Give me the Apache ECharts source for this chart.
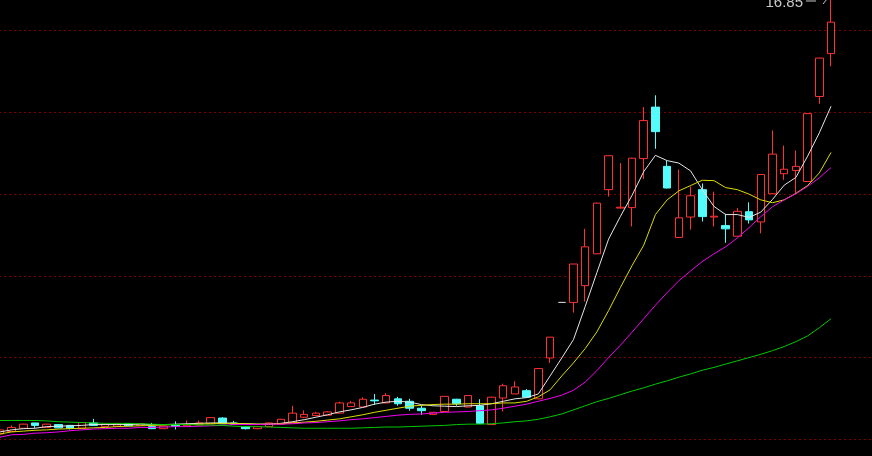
<!DOCTYPE html>
<html>
<head>
<meta charset="utf-8">
<script src="https://cdn.jsdelivr.net/npm/echarts@6/dist/echarts.min.js"></script>
<style>
html,body{margin:0;padding:0;background:#000;overflow:hidden;width:872px;height:456px;position:relative;}
#c{position:absolute;left:-6px;top:-51px;width:878px;height:572px;}
</style>
</head>
<body>
<div id="c"></div>
<script>
// ---- data ----
const opens = [6.13, 6.19, 6.27, 6.40, 6.29, 6.36, 6.34, 6.27, 6.40, 6.31,
 6.32, 6.38, 6.34, 6.31, 6.26, 6.34, 6.33, 6.35, 6.38, 6.52,
 6.40, 6.31, 6.26, 6.31, 6.37, 6.41, 6.54, 6.58, 6.59, 6.64,
 6.80, 6.79, 6.96, 6.89, 6.99, 6.93, 6.76, 6.61, 6.68, 6.98,
 6.79, 6.82, 6.36, 7.01, 7.11, 7.19, 6.99, 7.99, 9.35, 9.35,
 9.76, 10.54, 12.11, 11.66, 11.67, 12.87, 14.13, 12.68, 10.94, 11.44,
 12.11, 11.44, 11.23, 10.97, 11.57, 11.32, 12.01, 12.50, 12.58, 12.31,
 14.39, 15.44];
const closes = [6.23, 6.29, 6.37, 6.34, 6.37, 6.28, 6.27, 6.41, 6.34, 6.37,
 6.38, 6.33, 6.38, 6.26, 6.32, 6.32, 6.36, 6.40, 6.53, 6.38,
 6.37, 6.26, 6.31, 6.40, 6.49, 6.64, 6.61, 6.64, 6.67, 6.89,
 6.89, 6.98, 6.94, 7.07, 6.87, 6.76, 6.70, 6.66, 7.05, 6.87,
 7.07, 6.39, 7.03, 7.31, 7.28, 7.03, 7.73, 8.50, 9.35, 10.29,
 10.71, 11.78, 12.94, 11.68, 12.88, 13.80, 13.53, 12.15, 11.42, 11.96,
 11.45, 11.46, 11.15, 11.58, 11.37, 12.48, 12.98, 12.61, 12.68, 13.97,
 15.33, 16.21];
const lows = [6.11, 6.19, 6.26, 6.28, 6.28, 6.27, 6.24, 6.26, 6.33, 6.30,
 6.31, 6.32, 6.33, 6.25, 6.25, 6.24, 6.32, 6.34, 6.38, 6.37,
 6.36, 6.24, 6.25, 6.30, 6.36, 6.40, 6.53, 6.57, 6.59, 6.63,
 6.79, 6.78, 6.84, 6.88, 6.82, 6.70, 6.60, 6.60, 6.68, 6.82,
 6.78, 6.38, 6.35, 6.68, 7.11, 7.02, 6.98, 7.87, 9.35, 9.10,
 9.37, 10.53, 11.94, 11.65, 11.21, 12.37, 13.11, 12.14, 10.93, 11.13,
 11.33, 11.21, 10.81, 10.96, 11.28, 11.04, 12.00, 12.35, 12.03, 12.30,
 14.21, 15.13];
const highs = [6.25, 6.34, 6.38, 6.40, 6.38, 6.37, 6.35, 6.42, 6.50, 6.38,
 6.39, 6.39, 6.39, 6.40, 6.32, 6.44, 6.46, 6.46, 6.54, 6.54,
 6.45, 6.32, 6.32, 6.41, 6.50, 6.82, 6.71, 6.67, 6.69, 6.92,
 6.94, 7.03, 7.11, 7.13, 7.04, 6.99, 6.83, 6.66, 7.05, 6.99,
 7.08, 6.98, 7.04, 7.36, 7.42, 7.23, 7.74, 8.50, 9.35, 10.29,
 11.15, 11.79, 12.95, 12.76, 12.89, 14.13, 14.42, 12.82, 12.60, 12.19,
 12.26, 12.06, 11.52, 11.66, 11.80, 12.49, 13.56, 13.19, 13.07, 13.98,
 15.34, 16.85];
const ma5 = [6.18, 6.23, 6.26, 6.27, 6.31, 6.32, 6.33, 6.34, 6.36, 6.36,
 6.36, 6.36, 6.37, 6.36, 6.36, 6.37, 6.38, 6.39, 6.40, 6.40,
 6.39, 6.38, 6.37, 6.37, 6.39, 6.43, 6.48, 6.54, 6.60, 6.67,
 6.72, 6.78, 6.86, 6.91, 6.93, 6.91, 6.85, 6.82, 6.81, 6.80,
 6.82, 6.83, 6.87, 6.93, 6.99, 7.02, 7.11, 7.55, 7.99, 8.44,
 9.25, 10.08, 10.90, 11.45, 11.97, 12.55, 12.95, 12.82, 12.76, 12.57,
 12.11, 11.70, 11.50, 11.50, 11.43, 11.56, 11.87, 12.22, 12.41, 12.93,
 13.50, 14.15];
const ma10 = [6.13, 6.18, 6.20, 6.22, 6.23, 6.25, 6.26, 6.27, 6.28, 6.29,
 6.31, 6.32, 6.33, 6.34, 6.35, 6.36, 6.36, 6.37, 6.38, 6.39,
 6.39, 6.38, 6.37, 6.37, 6.38, 6.40, 6.42, 6.44, 6.47, 6.50,
 6.55, 6.60, 6.66, 6.71, 6.76, 6.81, 6.83, 6.85, 6.86, 6.86,
 6.87, 6.87, 6.87, 6.89, 6.89, 6.93, 7.04, 7.21, 7.55, 7.87,
 8.22, 8.63, 9.15, 9.71, 10.25, 10.75, 11.50, 11.86, 12.08, 12.21,
 12.34, 12.33, 12.16, 12.11, 12.00, 11.86, 11.79, 11.86, 12.02, 12.21,
 12.52, 13.02];
const ma20 = [6.05, 6.11, 6.12, 6.15, 6.16, 6.18, 6.21, 6.23, 6.25, 6.26,
 6.27, 6.27, 6.29, 6.29, 6.30, 6.31, 6.31, 6.32, 6.33, 6.34,
 6.36, 6.36, 6.36, 6.37, 6.37, 6.38, 6.40, 6.41, 6.43, 6.45,
 6.48, 6.50, 6.53, 6.56, 6.59, 6.61, 6.62, 6.64, 6.66, 6.67,
 6.68, 6.70, 6.72, 6.76, 6.81, 6.86, 6.93, 7.00, 7.08, 7.20,
 7.40, 7.68, 8.00, 8.30, 8.62, 8.95, 9.28, 9.59, 9.88, 10.12,
 10.35, 10.54, 10.71, 10.93, 11.18, 11.45, 11.69, 11.86, 12.01, 12.19,
 12.40, 12.65];
const ma60 = [6.46, 6.46, 6.46, 6.46, 6.45, 6.43, 6.42, 6.41, 6.40, 6.39,
 6.39, 6.39, 6.38, 6.37, 6.36, 6.36, 6.36, 6.35, 6.35, 6.34,
 6.32, 6.31, 6.31, 6.30, 6.29, 6.28, 6.27, 6.27, 6.27, 6.27,
 6.27, 6.28, 6.29, 6.30, 6.30, 6.31, 6.32, 6.33, 6.34, 6.36,
 6.37, 6.37, 6.38, 6.40, 6.43, 6.45, 6.49, 6.55, 6.62, 6.72,
 6.82, 6.92, 7.00, 7.09, 7.18, 7.26, 7.35, 7.43, 7.52, 7.60,
 7.69, 7.76, 7.84, 7.92, 8.00, 8.08, 8.17, 8.27, 8.39, 8.53,
 8.73, 8.95];
const dayLabels = opens.map((_, i) => 'D' + (i + 1));
const padLabels = ['P1', 'P2', 'P3'];
const categories = dayLabels.concat(padLabels);
const gridLevels = { min: 4, max: 18, step: 2 };

// ---- styles ----
const UP = '#ff3232', DOWN = '#54fcfc', FLAT = '#c8c8c8';

const candleData = opens.map((o, i) => {
  const v = [o, closes[i], lows[i], highs[i]];
  if (o === closes[i] && lows[i] === highs[i]) {
    return { value: v, itemStyle: { color: FLAT, color0: FLAT, borderColor: FLAT, borderColor0: FLAT } };
  }
  return v;
});

function maSeries(name, data, color) {
  return {
    name, type: 'line', data, symbol: 'none', showSymbol: false, smooth: false,
    lineStyle: { color, width: 1 }, silent: true, z: 3
  };
}

const chart = echarts.init(document.getElementById('c'), null, { renderer: 'canvas' });
const option = {
  backgroundColor: '#000',
  animation: false,
  grid: { left: 0, right: 0, top: 0, bottom: 0, containLabel: false },
  xAxis: {
    type: 'category', data: categories, boundaryGap: true,
    axisLine: { show: false }, axisTick: { show: false }, axisLabel: { show: false },
    splitLine: { show: false }
  },
  yAxis: {
    type: 'value', min: gridLevels.min, max: gridLevels.max, interval: gridLevels.step,
    axisLine: { show: false }, axisTick: { show: false }, axisLabel: { show: false },
    splitLine: { show: true, lineStyle: { color: '#800000', width: 1, type: [2, 3] } }
  },
  series: [
    {
      type: 'candlestick', data: candleData, barWidth: 8, z: 2,
      itemStyle: { color: '#000', color0: DOWN, borderColor: UP, borderColor0: DOWN, borderWidth: 1 }
    },
    maSeries('MA5', ma5, '#e6e6e6'),
    maSeries('MA10', ma10, '#dcdc00'),
    maSeries('MA20', ma20, '#f000f0'),
    maSeries('MA60', ma60, '#00c800')
  ]
};
chart.setOption(option);

// max-price label
const maxHigh = Math.max(...highs);
const maxIdx = highs.indexOf(maxHigh);
const p = chart.convertToPixel({ gridIndex: 0 }, [categories[maxIdx], maxHigh]);
chart.setOption({
  graphic: [
    { type: 'text', x: p[0] - 28, y: p[1] + 6.5,
      style: { text: maxHigh.toFixed(2), fill: '#c8c8c8', font: '15px "Liberation Sans", Arial, sans-serif',
               align: 'right', verticalAlign: 'middle' } },
    { type: 'line', shape: { x1: p[0] - 25, y1: p[1] + 5, x2: p[0] - 15, y2: p[1] + 5 },
      style: { stroke: '#c8c8c8', lineWidth: 1 } },
    { type: 'line', shape: { x1: p[0] - 8, y1: p[1] + 8, x2: p[0] - 4, y2: p[1] + 3 },
      style: { stroke: '#c8c8c8', lineWidth: 1 } }
  ]
});
</script>
</body>
</html>
